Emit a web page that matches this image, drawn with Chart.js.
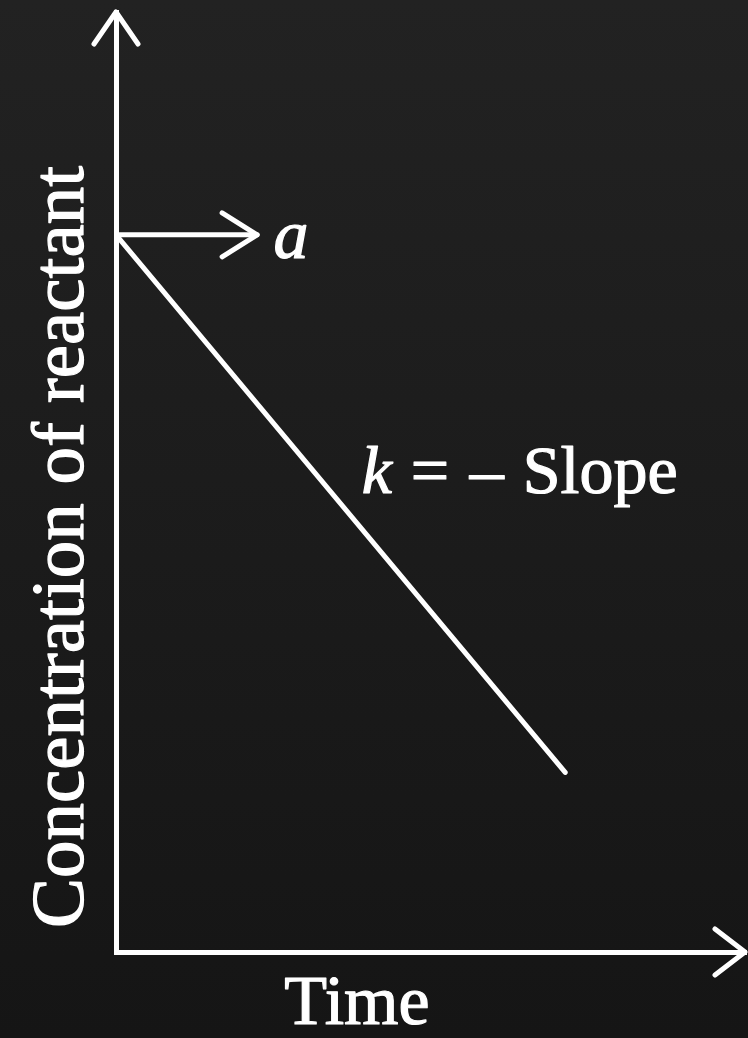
<!DOCTYPE html>
<html>
<head>
<meta charset="utf-8">
<script src="https://cdn.jsdelivr.net/npm/chart.js@4"></script>
<style>
  html, body { margin: 0; padding: 0; }
  body { width: 748px; height: 1038px; background: linear-gradient(#222222, #151515); overflow: hidden; }
  #wrap { position: relative; width: 748px; height: 1038px; }
</style>
</head>
<body>
<div id="wrap"><canvas id="c" width="748" height="1038"></canvas></div>
<script>
// ---- data ----
const timeValues = [0, 7.13];
const concentrationValues = [7.63, 1.91];
const initialArrowX = [0, 2.24];           // short arrow pointing at the intercept "a"
const xAxisTitle = 'Time';
const yAxisTitle = 'Concentration of reactant';
const interceptLabel = 'a';
const slopeLabelParts = ['k', '=', '\u2013', 'Slope'];

// annotation anchors (data units)
const interceptLabelPos = { x: 2.50, y: 7.38 };
const slopeLabelPos = { x: 3.90, y: 4.88 };

const WHITE = '#ffffff';
const SERIF = '"Liberation Serif", "DejaVu Serif", serif';

function chevron(ctx, tipX, tipY, dir, len, half) {
  ctx.beginPath();
  if (dir === 'right') {
    ctx.moveTo(tipX - len, tipY - half); ctx.lineTo(tipX, tipY); ctx.lineTo(tipX - len, tipY + half);
  } else {
    ctx.moveTo(tipX - half, tipY + len); ctx.lineTo(tipX, tipY); ctx.lineTo(tipX + half, tipY + len);
  }
  ctx.stroke();
}

function text(ctx, s, x, y) {
  ctx.fillText(s, x, y);
  ctx.strokeText(s, x, y);
}

const decor = {
  id: 'decor',
  afterDatasetsDraw(chart) {
    const { ctx, chartArea: a, scales: { x, y } } = chart;
    ctx.save();
    ctx.strokeStyle = WHITE; ctx.lineWidth = 5; ctx.lineCap = 'round'; ctx.lineJoin = 'round';
    chevron(ctx, a.left, a.top, 'up', 32, 22);
    chevron(ctx, a.right - 1, a.bottom, 'right', 30, 23);
    chevron(ctx, x.getPixelForValue(initialArrowX[1]), y.getPixelForValue(concentrationValues[0]), 'right', 35, 22);

    ctx.fillStyle = WHITE;
    ctx.lineWidth = 1.2;
    ctx.textBaseline = 'alphabetic';
    ctx.textAlign = 'left';
    // intercept label
    ctx.font = 'italic 70px ' + SERIF;
    text(ctx, interceptLabel, x.getPixelForValue(interceptLabelPos.x), y.getPixelForValue(interceptLabelPos.y));
    // slope label
    const kx = x.getPixelForValue(slopeLabelPos.x), ky = y.getPixelForValue(slopeLabelPos.y);
    const offsets = [0, 49, 108, 161];
    slopeLabelParts.forEach((p, i) => {
      ctx.font = (i === 0 ? 'italic ' : '') + '68px ' + SERIF;
      text(ctx, p, kx + offsets[i], ky);
    });
    // axis titles
    ctx.font = '70px ' + SERIF;
    ctx.textAlign = 'center';
    text(ctx, xAxisTitle, a.left + 241, a.bottom + 72);
    ctx.save();
    ctx.translate(a.left - 33, a.top + 535);
    ctx.rotate(-Math.PI / 2);
    ctx.font = '75px ' + SERIF;
    text(ctx, yAxisTitle, 0, 0);
    ctx.restore();
    ctx.restore();
  }
};

new Chart(document.getElementById('c'), {
  type: 'scatter',
  data: {
    datasets: [
      {
        data: timeValues.map((t, i) => ({ x: t, y: concentrationValues[i] })),
        showLine: true, borderColor: WHITE, borderWidth: 5, pointRadius: 0,
        borderCapStyle: 'round', fill: false
      },
      {
        data: initialArrowX.map(t => ({ x: t, y: concentrationValues[0] })),
        showLine: true, borderColor: WHITE, borderWidth: 5, pointRadius: 0,
        borderCapStyle: 'round', fill: false
      }
    ]
  },
  options: {
    responsive: false,
    animation: false,
    events: [],
    layout: { padding: { left: 116, right: 2, top: 12, bottom: 86 } },
    plugins: { legend: { display: false }, tooltip: { enabled: false } },
    scales: {
      x: {
        type: 'linear', min: 0, max: 10,
        grid: { display: false, drawTicks: false, tickLength: 0 },
        ticks: { display: false, padding: 0 },
        border: { display: true, color: WHITE, width: 5 },
        title: { display: false, text: xAxisTitle }
      },
      y: {
        type: 'linear', min: 0, max: 10,
        grid: { display: false, drawTicks: false, tickLength: 0 },
        ticks: { display: false, padding: 0 },
        border: { display: true, color: WHITE, width: 5 },
        title: { display: false, text: yAxisTitle }
      }
    }
  },
  plugins: [decor]
});
</script>
</body>
</html>
